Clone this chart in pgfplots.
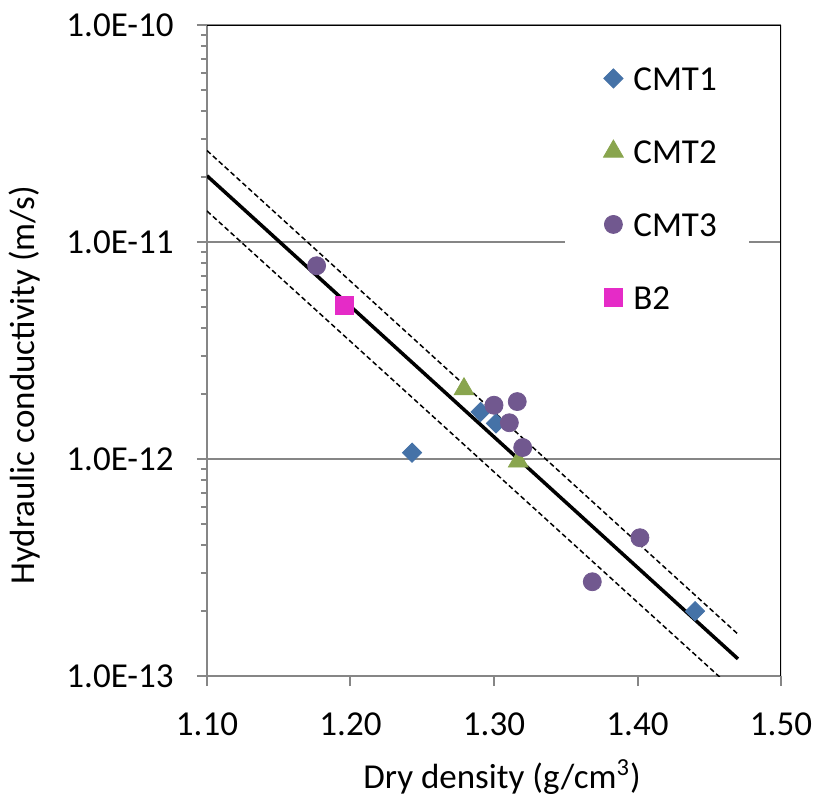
\documentclass[border=0pt]{standalone}
\usepackage{pgfplots}
\pgfplotsset{compat=1.18}
\usepackage{fontspec}
\setmainfont{Carlito}
\definecolor{cmtblue}{HTML}{4572A7}
\definecolor{cmtgreen}{HTML}{89A54E}
\definecolor{cmtpurple}{HTML}{71588F}
\definecolor{bmag}{HTML}{E52BC7}
\definecolor{axgray}{HTML}{868686}
\begin{document}
\begin{tikzpicture}
\useasboundingbox (-103.5pt,-62pt) rectangle (306pt,338pt);
\begin{axis}[
  scale only axis, width=287pt, height=325.5pt,
  ymode=log, xmin=1.10, xmax=1.50, ymin=1e-13, ymax=1e-10,
  font=\fontsize{17.5}{21}\selectfont,
  axis x line*=bottom, axis y line*=left,
  axis line style={draw=axgray, line width=1pt},
  tick style={draw=axgray, line width=1pt},
  tick align=outside, major tick length=5pt, minor tick length=3pt,
  xtick={1.1,1.2,1.3,1.4,1.5}, xticklabels={1.10,1.20,1.30,1.40,1.50},
  ytick={1e-13,1e-12,1e-11,1e-10}, yticklabels={1.0E-13,1.0E-12,1.0E-11,1.0E-10},
  minor ytick={2e-13,3e-13,4e-13,5e-13,6e-13,7e-13,8e-13,9e-13,
               2e-12,3e-12,4e-12,5e-12,6e-12,7e-12,8e-12,9e-12,
               2e-11,3e-11,4e-11,5e-11,6e-11,7e-11,8e-11,9e-11},
  ymajorgrids, major grid style={draw=axgray, line width=1pt},
  xticklabel style={anchor=base, inner sep=0pt, yshift=-24.5pt},
  yticklabel style={anchor=east, inner sep=0pt, xshift=-11.5pt},
  xlabel={Dry density (g/cm\textsuperscript{3})},
  xlabel style={at={(axis description cs:0.514,-0.172)}, anchor=base},
  ylabel={Hydraulic conductivity (m/s)},
  ylabel style={at={(axis description cs:-0.2997,0.447)}, anchor=base},
  legend cell align=left,
  legend style={at={(rel axis cs:0.6237,0.9862)}, anchor=north west,
    draw=none, fill=white, inner xsep=16pt, inner ysep=16pt,
    row sep=24.5pt, column sep=0pt,
    nodes={inner sep=0pt, text height=12pt, text depth=0pt}},
  legend image code/.code={\path[draw=none,fill=none] (0pt,0pt) -- (18pt,0pt); \draw[#1] plot coordinates {(8pt,0pt)};},
]
% regression line and bounds
\addplot[black, line width=1.75pt, forget plot] coordinates {(1.10,2.02e-11) (1.47,1.20e-13)};
\addplot[black, line width=0.75pt, dash pattern=on 2.5pt off 1.5pt, forget plot] coordinates {(1.10,2.64e-11) (1.47,1.56e-13)};
\addplot[black, line width=0.75pt, dash pattern=on 2.5pt off 1.5pt, forget plot] coordinates {(1.10,1.39e-11) (1.47,8.3e-14)};
% data
\addplot[only marks, mark=square*, mark size=3.4pt, color=cmtblue, mark options={rotate=45}]
  coordinates {(1.2907,1.65e-12) (1.3014,1.46e-12) (1.2429,1.07e-12) (1.4401,1.99e-13)};
\addlegendentry{CMT1}
\addplot[only marks, mark=triangle*, mark size=5.7pt, color=cmtgreen]
  coordinates {(1.2791,2.10e-12) (1.3169,9.76e-13)};
\addlegendentry{CMT2}
\addplot[only marks, mark=*, mark size=4.5pt, color=cmtpurple]
  coordinates {(1.1764,7.78e-12) (1.3000,1.77e-12) (1.3162,1.84e-12) (1.3107,1.47e-12) (1.3200,1.13e-12) (1.4017,4.34e-13) (1.3685,2.72e-13)};
\addlegendentry{CMT3}
\addplot[only marks, mark=square*, mark size=4.5pt, color=bmag]
  coordinates {(1.1955,5.09e-12)};
\addlegendentry{B2}
\draw[black, line width=0.6pt] (rel axis cs:0,1) -- (rel axis cs:1,1) -- (rel axis cs:1,0);
\end{axis}
\end{tikzpicture}
\end{document}
